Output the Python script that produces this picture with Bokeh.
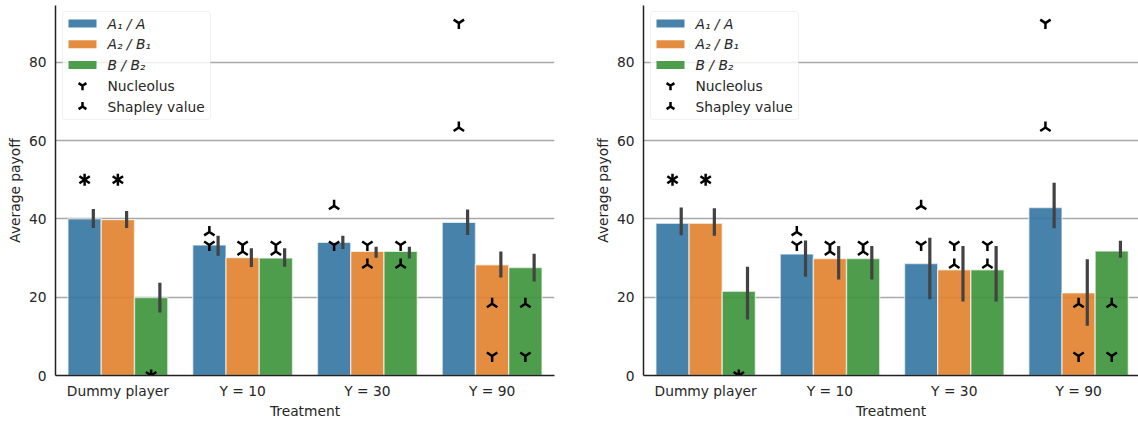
import numpy as np
from bokeh.plotting import figure
from bokeh.layouts import row
from bokeh.models import Range1d, FixedTicker, BoxAnnotation, ColumnDataSource, Label
from bokeh.embed import file_html
from bokeh.resources import INLINE

# ---- data -------------------------------------------------------------
categories = ["Dummy player", "Y = 10", "Y = 30", "Y = 90"]
roles = ["A₁ / A", "A₂ / B₁", "B / B₂"]
role_colors = ["#3274a1", "#e1812c", "#3a923a"]
y_ticks = [0, 20, 40, 60, 80]

# mean payoff per treatment (rows) and role (columns), with 95% CI bounds
left_mean = [[40.0, 39.8, 19.9], [33.3, 30.1, 30.0], [34.0, 31.7, 31.7], [39.1, 28.3, 27.6]]
left_lo = [[37.7, 37.7, 16.1], [30.6, 27.7, 27.8], [32.3, 30.1, 29.9], [35.9, 25.0, 24.0]]
left_hi = [[42.5, 42.0, 23.7], [35.7, 32.5, 32.5], [35.7, 32.9, 32.9], [42.4, 31.7, 31.1]]

right_mean = [[38.9, 38.9, 21.5], [31.0, 29.9, 29.9], [28.6, 27.0, 27.0], [42.9, 21.1, 31.8]]
right_lo = [[35.8, 35.7, 14.3], [25.2, 24.5, 24.5], [19.5, 18.9, 18.9], [37.6, 12.7, 30.1]]
right_hi = [[42.9, 42.7, 27.8], [34.5, 33.1, 33.1], [35.2, 33.1, 33.1], [49.2, 29.7, 34.4]]

# theoretical solution concepts
nucleolus = [[50, 50, 0], [33.33, 33.33, 33.33], [33.33, 33.33, 33.33], [90, 5, 5]]
shapley = [[50, 50, 0], [36.67, 31.67, 31.67], [43.33, 28.33, 28.33], [63.33, 18.33, 18.33]]

solution_labels = ["Nucleolus", "Shapley value"]

# ---- styling ----------------------------------------------------------
FONT = "DejaVu Sans"
FSIZE = "13.8px"
TXT = "#262626"
Y_TOP = 94.5
BAR_W = 0.8 / 3
ERR_SHIFT = 0.07
FRAME_H = 370
MARK = dict(line_color="black", line_width=2.5)


def build(mean, lo, hi, x_end, width, border_left, border_right):
    p = figure(width=width, height=423,
               x_range=Range1d(-0.5, x_end), y_range=Range1d(0, Y_TOP),
               output_backend="svg", toolbar_location=None,
               min_border_left=border_left, min_border_right=border_right,
               min_border_top=5, min_border_bottom=48)
    frame_w = width - border_left - border_right
    p.outline_line_color = None
    p.xgrid.visible = False
    p.ygrid.grid_line_color = "#a8a8a8"
    p.ygrid.grid_line_width = 1.3
    p.ygrid.ticker = FixedTicker(ticks=y_ticks)

    p.yaxis.ticker = FixedTicker(ticks=y_ticks)
    p.xaxis.ticker = FixedTicker(ticks=list(range(len(categories))))
    p.xaxis.major_label_overrides = {i: c for i, c in enumerate(categories)}
    for ax in (p.xaxis[0], p.yaxis[0]):
        ax.major_tick_out = 0
        ax.major_tick_in = 0
        ax.minor_tick_out = 0
        ax.minor_tick_in = 0
        ax.axis_line_color = "#222222"
        ax.axis_line_width = 1.5
        ax.major_label_text_font = FONT
        ax.major_label_text_font_size = FSIZE
        ax.major_label_text_color = TXT
        ax.axis_label_text_font = FONT
        ax.axis_label_text_font_size = FSIZE
        ax.axis_label_text_font_style = "normal"
        ax.axis_label_text_color = TXT
    p.xaxis.axis_label = "Treatment"
    p.yaxis.axis_label = "Average payoff"
    p.xaxis.major_label_standoff = 7
    p.xaxis.axis_label_standoff = 1
    p.yaxis.major_label_standoff = 9
    p.yaxis.axis_label_standoff = 3

    idx = np.arange(len(categories))
    all_x, all_nuc, all_sha = [], [], []
    for k, col in enumerate(role_colors):
        xs = idx + (k - 1) * BAR_W
        src = ColumnDataSource(dict(
            x=xs,
            top=[m[k] for m in mean],
            ex=xs + ERR_SHIFT,
            lo=[v[k] for v in lo],
            hi=[v[k] for v in hi],
        ))
        p.vbar(x="x", top="top", bottom=0, width=BAR_W, source=src,
               fill_color=col, fill_alpha=0.9,
               line_color="white", line_width=1.4, line_alpha=0.6)
        p.segment(x0="ex", y0="lo", x1="ex", y1="hi", source=src,
                  line_color="#424242", line_width=3.2)
        all_x.extend(xs.tolist())
        all_nuc.extend(n[k] for n in nucleolus)
        all_sha.extend(s[k] for s in shapley)

    sol = ColumnDataSource(dict(x=all_x, nuc=all_nuc, sha=all_sha))
    p.scatter(x="x", y="nuc", source=sol, marker="y", size=12, **MARK)
    p.scatter(x="x", y="sha", source=sol, marker="y", angle=np.pi, size=12, **MARK)

    # ---- legend, laid out in pixel offsets from the frame's top-left ----
    sx = (x_end + 0.5) / frame_w
    sy = Y_TOP / FRAME_H

    def dx(px):
        return -0.5 + px * sx

    def dy(py):
        return Y_TOP - py * sy

    p.add_layout(BoxAnnotation(left=dx(7), right=dx(155), top=dy(6), bottom=dy(114),
                               fill_color="white", fill_alpha=0.8,
                               line_color="#cccccc", line_width=1, border_radius=3))
    row_y = [18 + i * 20.75 for i in range(len(roles) + len(solution_labels))]

    for i, (role, col) in enumerate(zip(roles, role_colors)):
        p.add_layout(BoxAnnotation(left=dx(13), right=dx(41),
                                   top=dy(row_y[i] - 4), bottom=dy(row_y[i] + 4),
                                   fill_color=col, fill_alpha=0.9, line_color=None))
        p.add_layout(Label(x=dx(52), y=dy(row_y[i]), text=role,
                           text_font=FONT, text_font_size=FSIZE,
                           text_font_style="italic", text_color=TXT,
                           text_baseline="middle", text_align="left"))
    for j, name in enumerate(solution_labels):
        i = len(roles) + j
        p.add_layout(Label(x=dx(52), y=dy(row_y[i]), text=name,
                           text_font=FONT, text_font_size=FSIZE, text_color=TXT,
                           text_baseline="middle", text_align="left"))
    ky = [dy(row_y[len(roles)]), dy(row_y[len(roles) + 1])]
    p.scatter(x=[dx(27)], y=[ky[0]], marker="y", size=9, level="overlay", **MARK)
    p.scatter(x=[dx(27)], y=[ky[1]], marker="y", angle=np.pi, size=9, level="overlay", **MARK)
    return p


p_left = build(left_mean, left_lo, left_hi, 3.5, 588, 55, 34)
p_right = build(right_mean, right_lo, right_hi, 3.482, 550, 55, 0)

layout = row(p_left, p_right)
open("out.html", "w").write(file_html(layout, INLINE))
